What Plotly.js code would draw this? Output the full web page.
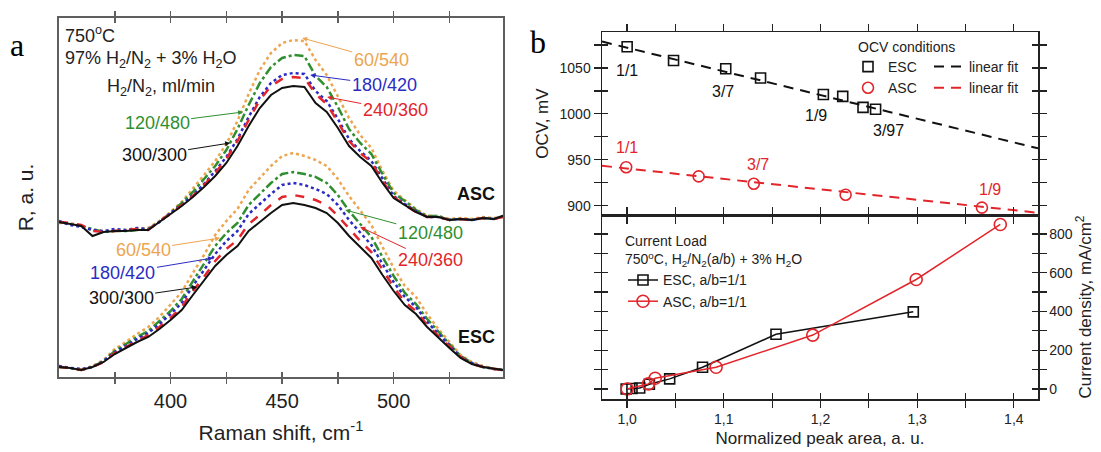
<!DOCTYPE html>
<html>
<head>
<meta charset="utf-8">
<script src="https://cdn.plot.ly/plotly-3.0.1.min.js"></script>
<style>html,body{margin:0;padding:0;background:#fff;}#chart{width:1101px;height:452px;}</style>
</head>
<body>
<div id="chart"></div>
<script>
// ---------- Panel a: Raman spectra ----------
const ramanX = [350,355,360,365,370,375,380,385,390,395,400,405,410,415,420,425,430,435,440,445,450,455,460,465,470,475,480,485,490,495,500,505,510,515,520,525,530,535,540,545,549];
// ASC spectra (upper set)
const asc60  = [154,154,151,147,146,146,147,148,149,156,165,175,188,202,216,233,256,283,307,324,334,337,336,317,302,281,259,242,229,206,186,177,168,161,161,158,159,158,160,159,160];
const asc120 = [155,153,151,148,145,146,146,147,148,155,164,174,185,198,211,227,248,272,294,310,319,322,321,301,290,270,248,234,223,203,184,176,167,161,161,157,158,157,159,158,161];
const asc180 = [156,152,150,147,146,148,147,149,148,155,164,172,182,193,206,220,238,260,280,294,302,304,303,286,276,258,238,226,216,198,181,173,166,160,160,157,158,157,159,158,161];
const asc240 = [155,154,152,146,145,146,147,148,147,156,163,172,181,192,204,218,236,257,277,291,298,300,299,283,273,255,236,224,215,196,180,172,165,160,160,157,158,157,159,158,160];
const asc300 = [155,153,151,141,145,146,146,147,147,155,163,171,180,190,201,214,231,251,269,282,289,291,290,274,265,249,231,220,211,194,179,172,165,160,160,157,158,157,159,158,161];
// ESC spectra (lower set)
const esc60  = [11,9,7,11,17,28,35,43,50,60,72,85,104,122,142,156,168,187,199,211,221,224,221,217,211,198,181,167,152,130,109,91,80,63,48,35,22,15,11,8,7];
const esc120 = [10,9,7,10,16,26,33,40,46,56,66,78,96,113,131,144,154,172,183,194,203,205,203,200,194,182,166,153,140,120,101,84,73,58,45,33,21,14,10,8,7];
const esc180 = [11,9,8,10,16,25,31,38,44,53,63,74,91,107,123,136,146,163,173,183,192,194,192,188,183,172,157,145,132,113,95,80,70,55,43,31,20,14,10,8,7];
const esc240 = [10,9,7,10,15,24,30,36,42,50,59,70,86,100,116,128,137,153,162,172,180,182,180,177,172,161,148,136,125,107,90,75,66,52,41,30,20,13,10,8,7];
const esc300 = [10,9,7,10,15,23,29,35,40,48,57,67,82,96,111,122,131,146,155,164,172,174,172,169,164,154,141,130,119,102,86,72,63,50,39,29,19,13,10,8,7];
const flowLabels = ['60/540','120/480','180/420','240/360','300/300'];
const ramanTicks = [375,400,425,450,475,500,525];
const ramanTickText = ['','400','','450','','500',''];

// ---------- Panel b: OCV ----------
const escNorm = [1.000,1.048,1.102,1.138,1.203,1.223,1.244,1.257];
const escOcv  = [1073,1058,1049,1039,1021,1019,1007,1005];
const ascNorm = [0.999,1.074,1.131,1.226,1.367];
const ascOcv  = [942,932,924,912,898];
const escFitX = [0.974,1.425];
const escFitY = [1078.6,962.5];
const ascFitX = [0.974,1.425];
const ascFitY = [943.5,892.4];
const ocvTicks = [900,925,950,975,1000,1025,1050,1075];
const ocvTickText = ['900','','950','','1000','','1050',''];

// ---------- Panel b: current load ----------
const escLoadX = [0.999,1.005,1.013,1.023,1.044,1.078,1.154,1.296];
const escLoadJ = [0,2,5,24,52,112,282,398];
const ascLoadX = [1.000,1.022,1.029,1.092,1.192,1.299,1.386];
const ascLoadJ = [0,26,55,112,278,565,849];
const normTicks = [1.0,1.05,1.1,1.15,1.2,1.25,1.3,1.35,1.4];
const normTickText = ['1,0','','1,1','','1,2','','1,3','','1,4'];
const jTicks = [0,100,200,300,400,500,600,700,800];
const jTickText = ['0','','200','','400','','600','','800'];

const FONT = 'Arial, "Liberation Sans", sans-serif';
const W = 1101, H = 452;
const px = v => v / W, py = v => 1 - v / H;

const cOrange = '#EDA54F', cGreen = '#2F8F2F', cBlue = '#2B2BC4', cRed = '#E2252B', cBlack = '#111111';
const specStyles = [
  {color: cOrange, dash: '3px,3px', width: 2.5},
  {color: cGreen, dash: 'dashdot', width: 2.5},
  {color: cBlue, dash: 'dot', width: 2.5},
  {color: cRed, dash: 'dash', width: 2.5},
  {color: cBlack, dash: 'solid', width: 2}
];
const ascSets = [asc60, asc120, asc180, asc240, asc300];
const escSets = [esc60, esc120, esc180, esc240, esc300];

const traces = [];
ascSets.forEach((ys, i) => traces.push({x: ramanX, y: ys, type: 'scatter', mode: 'lines', name: 'ASC ' + flowLabels[i], line: specStyles[i], xaxis: 'x', yaxis: 'y', showlegend: false}));
escSets.forEach((ys, i) => traces.push({x: ramanX, y: ys, type: 'scatter', mode: 'lines', name: 'ESC ' + flowLabels[i], line: specStyles[i], xaxis: 'x', yaxis: 'y', showlegend: false}));

// invisible helpers so the inner-tick overlay axes are drawn (gives ticks crossing the frame)
const ghost = (x, y, xa, ya) => ({x, y, type: 'scatter', mode: 'lines', line: {width: 0, color: 'rgba(0,0,0,0)'}, xaxis: xa, yaxis: ya, showlegend: false, hoverinfo: 'skip'});
traces.push(ghost(ramanX, asc300, 'x4', 'y'));
traces.push(ghost(escLoadX, escLoadJ, 'x5', 'y3'));
traces.push(ghost(escNorm, escOcv, 'x2', 'y4'));
traces.push(ghost(escLoadX, escLoadJ, 'x3', 'y5'));

// OCV panel
traces.push({x: escFitX, y: escFitY, type: 'scatter', mode: 'lines', name: 'linear fit', line: {color: cBlack, dash: '10px,7px', width: 2}, xaxis: 'x2', yaxis: 'y2', legend: 'legend2'});
traces.push({x: ascFitX, y: ascFitY, type: 'scatter', mode: 'lines', name: 'linear fit', line: {color: cRed, dash: '10px,7px', width: 2}, xaxis: 'x2', yaxis: 'y2', legend: 'legend2'});
traces.push({x: escNorm, y: escOcv, type: 'scatter', mode: 'markers', name: 'ESC', marker: {symbol: 'square-open', size: 10, color: cBlack, line: {width: 1.6}}, xaxis: 'x2', yaxis: 'y2', legend: 'legend'});
traces.push({x: ascNorm, y: ascOcv, type: 'scatter', mode: 'markers', name: 'ASC', marker: {symbol: 'circle-open', size: 11, color: cRed, line: {width: 1.6}}, xaxis: 'x2', yaxis: 'y2', legend: 'legend'});

// Current load panel
traces.push({x: escLoadX, y: escLoadJ, type: 'scatter', mode: 'lines+markers', name: 'ESC, a/b=1/1', line: {color: cBlack, width: 1.5}, marker: {symbol: 'square', size: 10, color: 'rgba(255,255,255,0)', line: {color: cBlack, width: 1.6}}, xaxis: 'x3', yaxis: 'y3', legend: 'legend3'});
traces.push({x: ascLoadX, y: ascLoadJ, type: 'scatter', mode: 'lines+markers', name: 'ASC, a/b=1/1', line: {color: cRed, width: 1.5}, marker: {symbol: 'circle', size: 12, color: 'rgba(255,255,255,0)', line: {color: cRed, width: 1.6}}, xaxis: 'x3', yaxis: 'y3', legend: 'legend3'});

const frameA = '#5f5f5f';
const bAxis = {showline: true, linecolor: '#222', linewidth: 1.5, ticks: 'outside', ticklen: 7, tickwidth: 1.3, tickcolor: '#222', mirror: 'ticks', showgrid: false, zeroline: false, tickfont: {size: 14, family: FONT, color: '#222'}};
const bInner = {showline: false, ticks: 'inside', ticklen: 6, tickwidth: 1.3, tickcolor: '#222', mirror: 'ticks', showgrid: false, zeroline: false, showticklabels: false, tickmode: 'array'};

function arrowAnn(x, y, text, color, ax, ay) {
  return {x, y, xref: 'x', yref: 'y', text, showarrow: true, ax, ay, arrowhead: 2, arrowsize: 1, arrowwidth: 1, arrowcolor: color, font: {size: 18, color, family: FONT}, standoff: 0};
}
function paperText(xp, yp, text, size, color, xanchor, family) {
  return {x: px(xp), y: py(yp), xref: 'paper', yref: 'paper', xanchor: xanchor || 'center', yanchor: 'middle', text, showarrow: false, font: {size, family: family || FONT, color}};
}
const SERIF = '"Liberation Serif", "DejaVu Serif", serif';

const annotations = [
  paperText(17, 45, 'a', 32, '#000', 'center', SERIF),
  paperText(538, 42, 'b', 32, '#000', 'center', SERIF),
  paperText(63, 35, '750<sup>o</sup>C', 18, '#222', 'left'),
  paperText(63, 60, '97% H<sub>2</sub>/N<sub>2</sub> + 3% H<sub>2</sub>O', 18, '#222', 'left'),
  paperText(105, 87, 'H<sub>2</sub>/N<sub>2</sub>, ml/min', 18, '#222', 'left'),
  // ASC labels
  arrowAnn(459, 339, '60/540', cOrange, 79, 22),
  arrowAnn(462.6, 302, '180/420', cBlue, 74, 10),
  arrowAnn(470.2, 280, '240/360', cRed, 68, 13),
  arrowAnn(432.5, 265, '120/480', cGreen, -86, 11),
  arrowAnn(426.7, 234, '300/300', cBlack, -76, 12),
  // ESC labels
  arrowAnn(422.2, 139, '60/540', cOrange, -77, 12),
  arrowAnn(419, 119, '180/420', cBlue, -90, 15),
  arrowAnn(411.9, 90, '300/300', cBlack, -76, 11),
  arrowAnn(478.3, 167, '120/480', cGreen, 85, 23),
  arrowAnn(485, 150, '240/360', cRed, 70, 33),
  paperText(476, 194, '<b>ASC</b>', 18, '#111'),
  paperText(476, 337, '<b>ESC</b>', 18, '#111'),
  // OCV legend heading
  paperText(856, 47, 'OCV conditions', 14, '#222', 'left'),
  // OCV point labels
  {x: 1.0, y: 1047, xref: 'x2', yref: 'y2', text: '1/1', showarrow: false, font: {size: 16, family: FONT, color: '#111'}},
  {x: 1.099, y: 1024, xref: 'x2', yref: 'y2', text: '3/7', showarrow: false, font: {size: 16, family: FONT, color: '#111'}},
  {x: 1.195, y: 998, xref: 'x2', yref: 'y2', text: '1/9', showarrow: false, font: {size: 16, family: FONT, color: '#111'}},
  {x: 1.27, y: 982, xref: 'x2', yref: 'y2', text: '3/97', showarrow: false, font: {size: 16, family: FONT, color: '#111'}},
  {x: 1.0, y: 963, xref: 'x2', yref: 'y2', text: '1/1', showarrow: false, font: {size: 16, family: FONT, color: cRed}},
  {x: 1.135, y: 945, xref: 'x2', yref: 'y2', text: '3/7', showarrow: false, font: {size: 16, family: FONT, color: cRed}},
  {x: 1.375, y: 918, xref: 'x2', yref: 'y2', text: '1/9', showarrow: false, font: {size: 16, family: FONT, color: cRed}}
];

const layout = {
  width: W, height: H,
  margin: {l: 0, r: 0, t: 0, b: 0},
  paper_bgcolor: '#fff', plot_bgcolor: 'rgba(0,0,0,0)',
  font: {family: FONT, color: '#222'},
  showlegend: true,
  xaxis: {domain: [px(59), px(503)], anchor: 'y', range: [350, 549], tickmode: 'array', tickvals: ramanTicks, ticktext: ramanTickText,
    showline: true, linecolor: frameA, linewidth: 2, ticks: 'outside', ticklen: 5, tickwidth: 1.5, tickcolor: frameA, mirror: 'ticks', showgrid: false, zeroline: false,
    tickfont: {size: 20, family: FONT, color: '#222'},
    title: {text: 'Raman shift, cm<sup>-1</sup>', font: {size: 21, family: FONT, color: '#222'}, standoff: 14}},
  xaxis4: {overlaying: 'x', anchor: 'y', side: 'bottom', range: [350, 549], tickmode: 'array', tickvals: ramanTicks, showticklabels: false,
    showline: false, ticks: 'inside', ticklen: 5, tickwidth: 1.5, tickcolor: frameA, mirror: 'ticks', showgrid: false, zeroline: false},
  yaxis: {domain: [py(377), py(18)], anchor: 'x', range: [0, 359], showticklabels: false, ticks: '',
    showline: true, linecolor: frameA, linewidth: 2, mirror: true, showgrid: false, zeroline: false,
    title: {text: 'R, a. u.', font: {size: 21, family: FONT, color: '#222'}, standoff: 18}},
  xaxis2: Object.assign({}, bAxis, {domain: [px(602), px(1038)], anchor: 'y2', range: [0.974, 1.425], tickmode: 'array', tickvals: normTicks, ticktext: normTickText, showticklabels: false}),
  yaxis2: Object.assign({}, bAxis, {domain: [py(215), py(32)], anchor: 'x2', range: [890, 1089], tickmode: 'array', tickvals: ocvTicks, ticktext: ocvTickText,
    title: {text: 'OCV, mV', font: {size: 17, family: FONT, color: '#222'}, standoff: 6}}),
  yaxis4: Object.assign({}, bInner, {overlaying: 'y2', anchor: 'x2', side: 'left', range: [890, 1089], tickvals: ocvTicks}),
  xaxis3: Object.assign({}, bAxis, {domain: [px(602), px(1038)], anchor: 'y3', range: [0.974, 1.425], tickmode: 'array', tickvals: normTicks, ticktext: normTickText,
    title: {text: 'Normalized peak area, a. u.', font: {size: 17, family: FONT, color: '#222'}, standoff: 6}}),
  xaxis5: Object.assign({}, bInner, {overlaying: 'x3', anchor: 'y3', side: 'bottom', range: [0.974, 1.425], tickvals: normTicks}),
  yaxis3: Object.assign({}, bAxis, {domain: [py(399), py(215)], anchor: 'x3', side: 'right', range: [-52, 898], tickmode: 'array', tickvals: jTicks, ticktext: jTickText,
    title: {text: 'Current density, mA/cm<sup>2</sup>', font: {size: 17, family: FONT, color: '#222'}, standoff: 4}}),
  yaxis5: Object.assign({}, bInner, {overlaying: 'y3', anchor: 'x3', side: 'right', range: [-52, 898], tickvals: jTicks}),
  legend: {x: px(848), xanchor: 'left', y: py(51), yanchor: 'top', bgcolor: 'rgba(0,0,0,0)', borderwidth: 0,
    font: {size: 14, family: FONT, color: '#222'}, tracegroupgap: 0},
  legend2: {x: px(929), xanchor: 'left', y: py(51), yanchor: 'top', bgcolor: 'rgba(0,0,0,0)', borderwidth: 0,
    font: {size: 14, family: FONT, color: '#222'}, tracegroupgap: 0},
  legend3: {x: px(623), xanchor: 'left', y: py(228), yanchor: 'top', bgcolor: 'rgba(0,0,0,0)', borderwidth: 0,
    font: {size: 14, family: FONT, color: '#222'}, title: {text: 'Current Load<br>750<sup>o</sup>C, H<sub>2</sub>/N<sub>2</sub>(a/b) + 3% H<sub>2</sub>O', font: {size: 14, family: FONT, color: '#222'}}, tracegroupgap: 0},
  annotations: annotations
};

Plotly.newPlot('chart', traces, layout, {staticPlot: true, displayModeBar: false});
</script>
</body>
</html>
